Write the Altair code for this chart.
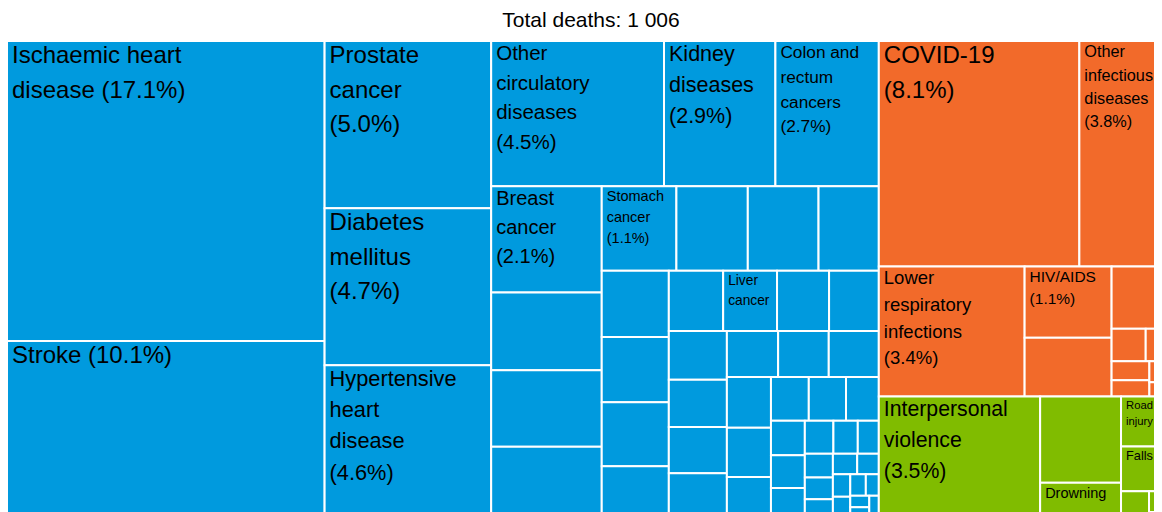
import altair as alt
import pandas as pd

# ---------------- data (deaths) ----------------
TOTAL_DEATHS = 1006
TITLE_PREFIX = "Total deaths: "

GROUP_COLORS = ["#009ADE", "#F26A2A", "#80BC00"]

NCD_NAMES = [
    "Ischaemic heart disease", "Stroke", "Prostate cancer", "Diabetes mellitus",
    "Hypertensive heart disease", "Other circulatory diseases", "Kidney diseases",
    "Colon and rectum cancers", "Breast cancer", "", "", "",
    "Stomach cancer", "", "", "",
    "", "", "", "",
    "", "Liver cancer", "", "",
    "", "", "", "",
    "", "", "",
    "", "", "",
    "", "", "",
    "", "", "",
    "", "", "",
    "", "", "", "", "", "", "", "", "", "", "", "", "",
]
NCD_VALUES = [
    172, 102, 50.3, 47.2,
    46.2, 45.3, 29.2,
    27.1, 21.2, 15.5, 15.3, 14.4,
    11.4, 10.9, 10.8, 9.2,
    8.0, 7.9, 7.75, 6.4,
    5.9, 5.85, 5.65, 5.4,
    5.1, 4.95, 4.85, 4.8,
    4.25, 4.2, 4.15,
    4.05, 3.9, 3.35,
    3.0, 2.95, 2.6,
    2.1, 2.0, 1.9,
    1.7, 1.45, 1.25,
    1.2, 1.1, 1.0, 0.9, 0.8, 0.7, 0.7, 0.6, 0.5, 0.4, 0.4, 0.3, 0.1,
]

CMN_NAMES = ["COVID-19", "Other infectious diseases", "Lower respiratory infections",
             "HIV/AIDS", "", "", "", "", "", "", "", ""]
CMN_VALUES = [81.6, 38.1, 34.2, 11.2, 9.2, 6.9, 2.0, 1.6, 1.3, 1.1, 0.9, 0.6]

INJ_NAMES = ["Interpersonal violence", "", "Drowning", "Road injury", "Falls", "", "", ""]
INJ_VALUES = [35.7, 12.6, 5.3, 4.7, 4.2, 1.4, 0.9, 0.3]

GROUPS = [(NCD_NAMES, NCD_VALUES), (CMN_NAMES, CMN_VALUES), (INJ_NAMES, INJ_VALUES)]

# ---------------- layout parameters ----------------
W, H = 1166, 478          # full treemap size in px; only part of it is visible, as in the original
VIEW_W, VIEW_H = 1146, 471
X0 = -1
RATIO = 1.17              # squarify aspect-ratio parameter
MAX_FS, MIN_FS, EDGE_MIN_FS = 24, 13, 9
FONT = "Liberation Sans"

# Arial / Liberation Sans advance widths (1/1000 em)
CW = {
    'a': 556, 'b': 556, 'c': 500, 'd': 556, 'e': 556, 'f': 278, 'g': 556, 'h': 556, 'i': 222,
    'j': 222, 'k': 500, 'l': 222, 'm': 833, 'n': 556, 'o': 556, 'p': 556, 'q': 556, 'r': 333,
    's': 500, 't': 278, 'u': 556, 'v': 500, 'w': 722, 'x': 500, 'y': 500, 'z': 500,
    'A': 667, 'B': 667, 'C': 722, 'D': 722, 'E': 667, 'F': 611, 'G': 778, 'H': 722, 'I': 278,
    'J': 500, 'K': 667, 'L': 556, 'M': 833, 'N': 722, 'O': 778, 'P': 667, 'Q': 778, 'R': 722,
    'S': 667, 'T': 611, 'U': 722, 'V': 667, 'W': 944, 'X': 667, 'Y': 667, 'Z': 611,
    ' ': 278, '(': 333, ')': 333, '%': 889, '.': 278, '-': 333, '/': 278, ':': 278, ',': 278,
}


def text_w(s, fs):
    return sum(CW.get(c, 556) for c in s) * fs / 1000.0


def squarify(values, x0, y0, x1, y1, ratio):
    rects = [None] * len(values)
    n = len(values)
    i0 = i1 = 0
    value = float(sum(values))
    while i0 < n:
        dx, dy = x1 - x0, y1 - y0
        sumv = values[i1]
        i1 += 1
        minv = maxv = sumv
        alpha = max(dy / dx, dx / dy) / (value * ratio)
        beta = sumv * sumv * alpha
        minr = max(maxv / beta, beta / minv)
        while i1 < n:
            nv = values[i1]
            s2 = sumv + nv
            mn, mx = min(minv, nv), max(maxv, nv)
            beta = s2 * s2 * alpha
            nr = max(mx / beta, beta / mn)
            if nr > minr:
                break
            sumv, minv, maxv, minr = s2, mn, mx, nr
            i1 += 1
        if dx < dy:
            yk = y0 + dy * sumv / value if i1 < n else y1
            x = x0
            for k in range(i0, i1):
                w = (x1 - x0) * values[k] / sumv
                rects[k] = (x, y0, x + w, yk)
                x += w
            y0 = yk
        else:
            xk = x0 + dx * sumv / value if i1 < n else x1
            y = y0
            for k in range(i0, i1):
                h = (y1 - y0) * values[k] / sumv
                rects[k] = (x0, y, xk, y + h)
                y += h
            x0 = xk
        value -= sumv
        i0 = i1
    return rects


def wrap(words, fs, maxw):
    lines, cur = [], ""
    for wd in words:
        if text_w(wd, fs) > maxw:
            return None
        trial = wd if not cur else cur + " " + wd
        if text_w(trial, fs) <= maxw:
            cur = trial
        else:
            lines.append(cur)
            cur = wd
    if cur:
        lines.append(cur)
    return lines


def fit_label(name, pct, w, h, vis_w):
    if not name:
        return None
    maxw = min(0.77 * w, vis_w)
    attempts = [(True, MIN_FS), (False, MIN_FS)]
    if vis_w < 0.77 * w:
        attempts.append((False, EDGE_MIN_FS))
    for with_pct, min_fs in attempts:
        words = name.split() + ([f"({pct})"] if with_pct else [])
        fs = MAX_FS
        while fs >= min_fs:
            lines = wrap(words, fs, maxw)
            if lines and len(lines) * 1.44 * fs <= 0.82 * h:
                return fs, lines
            fs -= 0.25
    return None


# ---------------- build tables ----------------
group_vals = [sum(v) for _, v in GROUPS]
group_rects = squarify(group_vals, X0, 0, X0 + W, H, RATIO)

rect_rows, text_rows = [], []
for gi, ((names, vals), grect) in enumerate(zip(GROUPS, group_rects)):
    tiles = squarify(vals, *grect, RATIO)
    for name, v, (a, b, c, d) in zip(names, vals, tiles):
        rect_rows.append({"x0": a, "x1": c, "y0": b, "y1": d,
                          "color": GROUP_COLORS[gi], "name": name, "deaths": v})
        pct = f"{100 * v / TOTAL_DEATHS:.1f}%"
        fit = fit_label(name, pct, c - a, d - b, VIEW_W - 1 - (a + 5))
        if fit:
            fs, lines = fit
            for li, line in enumerate(lines):
                text_rows.append({"tx": a + 5, "ty": b + 4 + 0.75 * fs + li * 1.44 * fs,
                                  "label": line, "fs": fs})

rects_df = pd.DataFrame(rect_rows)
text_df = pd.DataFrame(text_rows)
title_df = pd.DataFrame({"t": [TITLE_PREFIX + f"{TOTAL_DEATHS:,}".replace(",", " ")]})

xs = alt.Scale(domain=[0, VIEW_W], nice=False, zero=False)
ys = alt.Scale(domain=[0, VIEW_H], nice=False, zero=False, reverse=True)

tiles = alt.Chart(rects_df).mark_rect(stroke="white", strokeWidth=2, clip=True).encode(
    x=alt.X("x0:Q", scale=xs, axis=None),
    x2="x1:Q",
    y=alt.Y("y0:Q", scale=ys, axis=None),
    y2="y1:Q",
    color=alt.Color("color:N", scale=None),
    tooltip=["name:N", "deaths:Q"],
)

labels = alt.Chart(text_df).mark_text(
    align="left", baseline="alphabetic", font=FONT, color="#000000", clip=True
).encode(
    x=alt.X("tx:Q", scale=xs, axis=None),
    y=alt.Y("ty:Q", scale=ys, axis=None),
    text="label:N",
    size=alt.Size("fs:Q", scale=None, legend=None),
)

title = alt.Chart(title_df).mark_text(
    align="center", baseline="alphabetic", font=FONT, fontSize=21, color="#000000"
).encode(x=alt.value(W / 2), y=alt.value(-14), text="t:N")

chart = alt.layer(tiles, labels, title).properties(
    width=VIEW_W, height=VIEW_H,
    autosize=alt.AutoSizeParams(type="none"),
    padding={"left": 0, "top": 33, "right": 0, "bottom": 0},
).configure_view(stroke=None)

chart.save("out.html", embed_options={"renderer": "svg", "actions": False})
